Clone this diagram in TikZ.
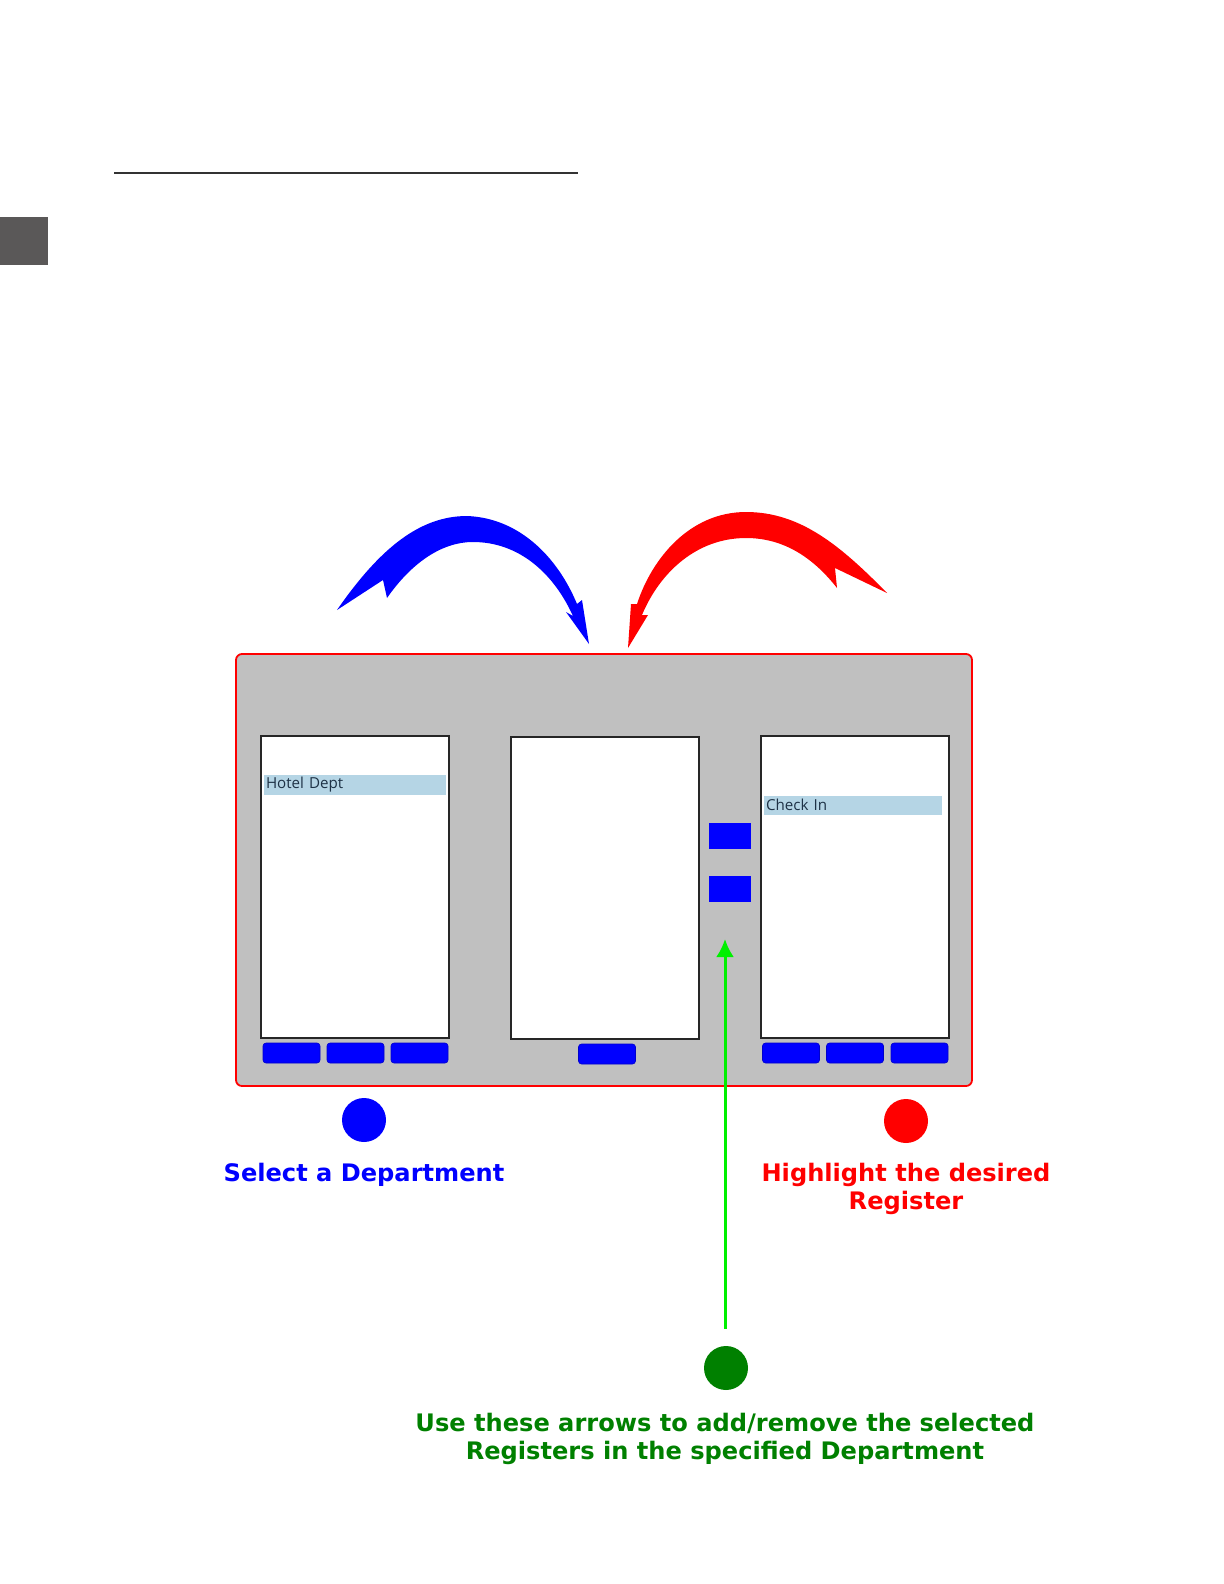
\documentclass[tikz,border=0pt]{standalone}
\usepackage{fontspec}
\setmainfont{DejaVu Sans}
\newfontfamily\uifont{Open Sans}
\usetikzlibrary{arrows.meta,positioning}

\definecolor{panelgray}{RGB}{192,192,192}
\definecolor{pickblue}{RGB}{181,213,229}
\definecolor{picktext}{RGB}{30,50,70}
\definecolor{darkgreen}{RGB}{0,128,0}
\definecolor{brightgreen}{RGB}{0,240,0}
\definecolor{tabgray}{RGB}{90,88,88}

\begin{document}
\begin{tikzpicture}[
    x=0.5bp, y=-0.5bp,
    >={Latex[length=9bp,width=9bp]},
    panelbox/.style={
        rectangle,
        rounded corners=3bp,
        draw=red,
        line width=0.9bp,
        fill=panelgray,
        minimum width=368bp,
        minimum height=216bp,
        inner sep=0pt
    },
    listbox/.style={
        rectangle,
        draw=black!85,
        line width=1bp,
        fill=white,
        minimum width=94bp,
        minimum height=151bp,
        inner sep=0pt
    },
    pick/.style={
        rectangle,
        fill=pickblue,
        minimum width=#1,
        minimum height=9.5bp,
        inner sep=1bp,
        text=picktext,
        font=\uifont\fontsize{7.6}{8}\selectfont,
        text width=#1-2bp,
        align=left
    },
    btn/.style={
        rectangle,
        rounded corners=1.5bp,
        draw=blue!80!black,
        line width=0.3bp,
        fill=blue,
        minimum width=28.5bp,
        minimum height=10bp,
        inner sep=0pt
    },
    movebtn/.style={
        rectangle,
        fill=blue,
        minimum width=21bp,
        minimum height=13bp,
        inner sep=0pt
    },
    dot/.style={
        circle,
        fill=#1,
        minimum size=22bp,
        inner sep=0pt
    },
    note/.style={
        font=\bfseries\fontsize{12.1}{14.4}\selectfont,
        text=#1,
        align=center
    }
]
\useasboundingbox (0,0) rectangle (1224,1584);

% Page header
\draw[black!80, line width=0.6bp] (114,173) -- (578,173);
\fill[tabgray] (0,217) rectangle (48,265);

% Dialog
\node[panelbox] (panel) at (604,870) {};
\node[listbox] (deptlist) at (355,887) {};
\node[listbox] (midlist) at (605,888) {};
\node[listbox] (reglist) at (854.5,887) {};

\node[pick=91bp] (hotel) at (355,785) {Hotel Dept};
\node[pick=89bp] (checkin) at (853,805) {Check In};

% Add / remove buttons
\node[movebtn] (addbtn) at (730,836) {};
\node[movebtn] (rembtn) at (730,889) {};

% Buttons under the lists
\foreach \bx [count=\i] in {291.5,355.5,419.5,791,855,919.5}
    \node[btn] (btn\i) at (\bx,1053) {};
\node[btn] (midbtn) at (607,1054) {};

% Curved arrows
\fill[blue] (337,610) .. controls (380,548) and (420,516) .. (467,516)
    .. controls (520,518) and (558,558) .. (577,604) -- (582,600) -- (589,644)
    -- (566,612) -- (573,616) .. controls (553,572) and (518,542) .. (473,542)
    .. controls (440,542) and (410,565) .. (387,598) -- (383,580) -- cycle;
\fill[red] (887,593) .. controls (840,545) and (800,512) .. (746,512)
    .. controls (690,512) and (652,558) .. (637,604) -- (631,604) -- (628,648)
    -- (648,615) -- (642,615) .. controls (660,572) and (697,538) .. (746,538)
    .. controls (786,538) and (815,560) .. (837,588) -- (835,568) -- cycle;

% Step markers
\node[dot=blue] (stepone) at (364,1120) {};
\node[dot=red] (steptwo) at (906,1121) {};
\node[dot=darkgreen] (stepthree) at (726,1368) {};

\node[note=blue] (deptnote) at (364,1175) {Select a Department};
\node[note=red] (regnote) at (906,1189) {Highlight the desired\\Register};
\node[note=darkgreen] (movenote) at (725,1439)
    {Use these arrows to add/remove the selected\\Registers in the specified Department};

\coordinate (greentip) at (725,939);
\draw[->, brightgreen, line width=1.5bp, shorten <=8.5bp] (stepthree.north -| greentip) -- (greentip);

\end{tikzpicture}
\end{document}
